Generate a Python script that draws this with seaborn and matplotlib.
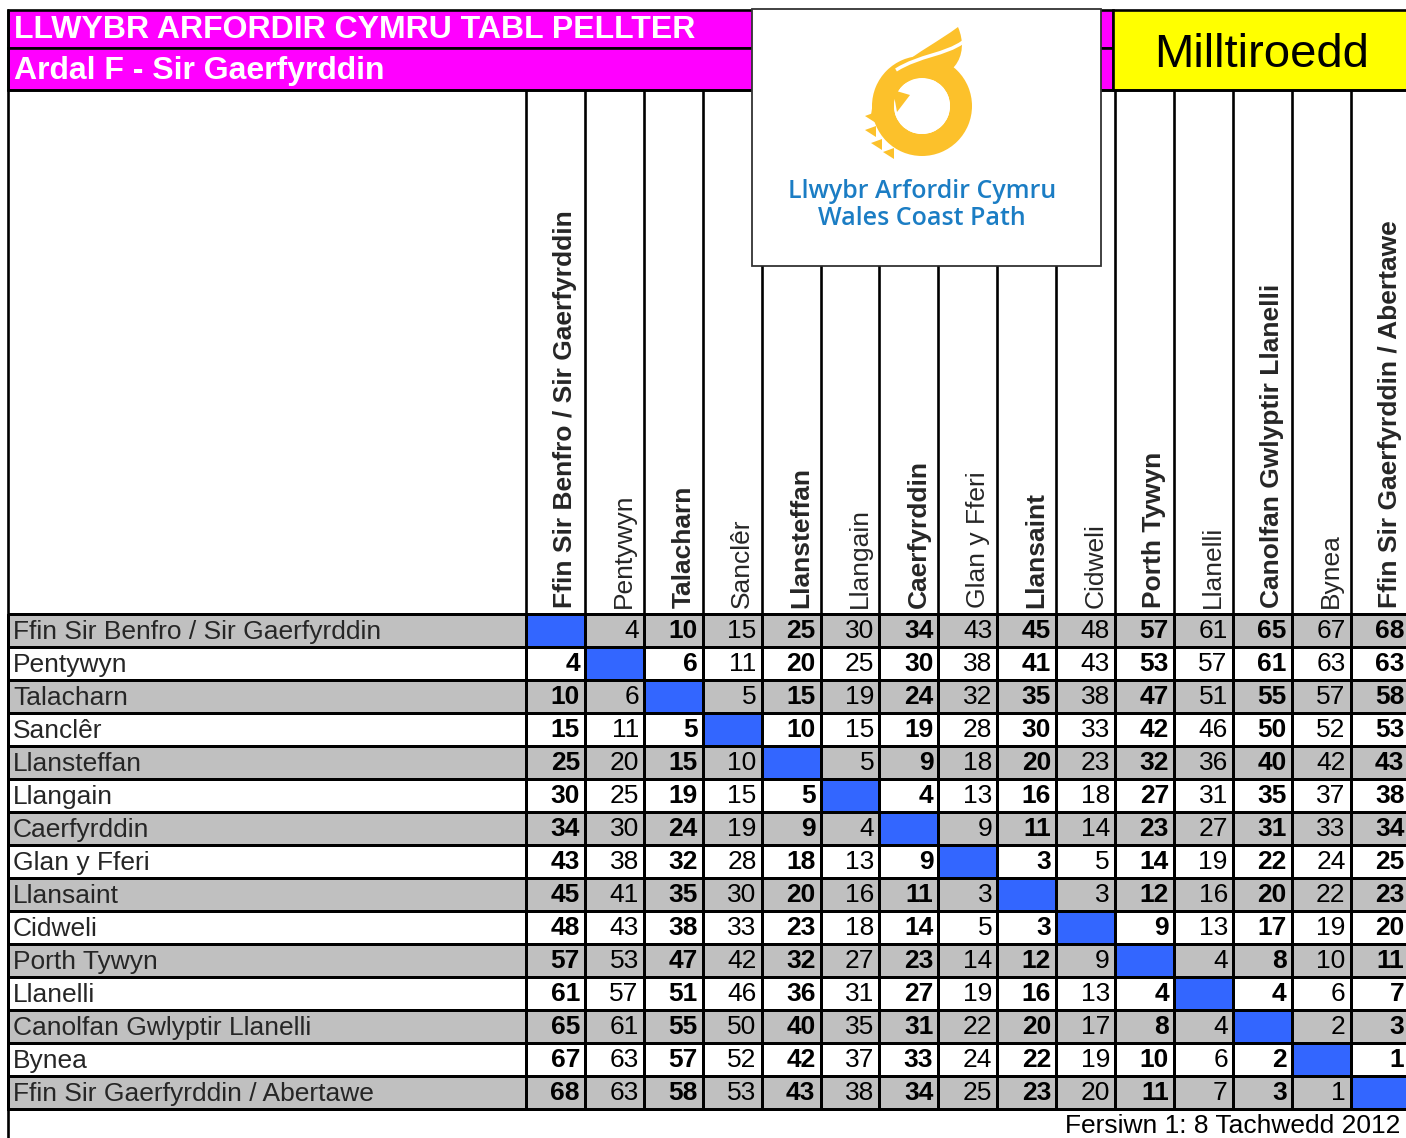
import numpy as np
import pandas as pd
import seaborn as sns
import matplotlib.pyplot as plt
from matplotlib.colors import ListedColormap
from matplotlib.patches import Rectangle, Wedge, PathPatch, Polygon
from matplotlib.path import Path

# ---------------- data ----------------
places = [
    "Ffin Sir Benfro / Sir Gaerfyrddin", "Pentywyn", "Talacharn", "Sanclêr",
    "Llansteffan", "Llangain", "Caerfyrddin", "Glan y Fferi", "Llansaint",
    "Cidweli", "Porth Tywyn", "Llanelli", "Canolfan Gwlyptir Llanelli",
    "Bynea", "Ffin Sir Gaerfyrddin / Abertawe",
]
row_ffin_benfro = [0, 4, 10, 15, 25, 30, 34, 43, 45, 48, 57, 61, 65, 67, 68]
row_pentywyn    = [4, 0, 6, 11, 20, 25, 30, 38, 41, 43, 53, 57, 61, 63, 63]
row_talacharn   = [10, 6, 0, 5, 15, 19, 24, 32, 35, 38, 47, 51, 55, 57, 58]
row_sancler     = [15, 11, 5, 0, 10, 15, 19, 28, 30, 33, 42, 46, 50, 52, 53]
row_llansteffan = [25, 20, 15, 10, 0, 5, 9, 18, 20, 23, 32, 36, 40, 42, 43]
row_llangain    = [30, 25, 19, 15, 5, 0, 4, 13, 16, 18, 27, 31, 35, 37, 38]
row_caerfyrddin = [34, 30, 24, 19, 9, 4, 0, 9, 11, 14, 23, 27, 31, 33, 34]
row_glanyfferi  = [43, 38, 32, 28, 18, 13, 9, 0, 3, 5, 14, 19, 22, 24, 25]
row_llansaint   = [45, 41, 35, 30, 20, 16, 11, 3, 0, 3, 12, 16, 20, 22, 23]
row_cidweli     = [48, 43, 38, 33, 23, 18, 14, 5, 3, 0, 9, 13, 17, 19, 20]
row_porthtywyn  = [57, 53, 47, 42, 32, 27, 23, 14, 12, 9, 0, 4, 8, 10, 11]
row_llanelli    = [61, 57, 51, 46, 36, 31, 27, 19, 16, 13, 4, 0, 4, 6, 7]
row_canolfan    = [65, 61, 55, 50, 40, 35, 31, 22, 20, 17, 8, 4, 0, 2, 3]
row_bynea       = [67, 63, 57, 52, 42, 37, 33, 24, 22, 19, 10, 6, 2, 0, 1]
row_ffin_abertawe = [68, 63, 58, 53, 43, 38, 34, 25, 23, 20, 11, 7, 3, 1, 0]
dist = [row_ffin_benfro, row_pentywyn, row_talacharn, row_sancler, row_llansteffan,
        row_llangain, row_caerfyrddin, row_glanyfferi, row_llansaint, row_cidweli,
        row_porthtywyn, row_llanelli, row_canolfan, row_bynea, row_ffin_abertawe]

title1 = "LLWYBR ARFORDIR CYMRU TABL PELLTER"
title2 = "Ardal F - Sir Gaerfyrddin"
unit_label = "Milltiroedd"
logo_line1 = "Llwybr Arfordir Cymru"
logo_line2 = "Wales Coast Path"
footer = "Fersiwn 1: 8 Tachwedd 2012"

# ---------------- style ----------------
sns.set_theme(style="white")
plt.rcParams["font.family"] = ["Liberation Sans", "DejaVu Sans"]

MAGENTA = "#ff00ff"
GREY = "#c0c0c0"
BLUE = "#3366ff"
YELLOW = "#ffff00"
LW = 1.9

W, H = 1406, 1138
fig = plt.figure(figsize=(W / 100, H / 100), dpi=100)


def fr(x0, y0, x1, y1):
    return [x0 / W, 1 - y1 / H, (x1 - x0) / W, (y1 - y0) / H]


TOP, BOT, LEFT, SPLIT, COLW = 614, 1109, 8, 526, 58.9
RIGHT = SPLIT + 15 * COLW
ROWH = (BOT - TOP) / 15.0

# background / header axes in pixel coordinates
bg = fig.add_axes([0, 0, 1, 1])
bg.set_xlim(0, W)
bg.set_ylim(H, 0)
bg.axis("off")

bg.add_patch(Rectangle((LEFT, 10), 1113 - LEFT, 38, fc=MAGENTA, ec="black", lw=LW, zorder=1))
bg.add_patch(Rectangle((LEFT, 48), 1113 - LEFT, 42, fc=MAGENTA, ec="black", lw=LW, zorder=1))
bg.add_patch(Rectangle((1113, 10), 320, 80, fc=YELLOW, ec="black", lw=LW, zorder=1))
bg.plot([LEFT, RIGHT], [90, 90], color="black", lw=LW, zorder=1.5)
bg.plot([LEFT, LEFT], [10, H], color="black", lw=LW, zorder=1.5)

bg.text(14, 30, title1, color="white", fontsize=23, fontweight="bold", va="center", ha="left", zorder=3)
bg.text(14, 71, title2, color="white", fontsize=23, fontweight="bold", va="center", ha="left", zorder=3)
bg.text(1262, 50, unit_label, color="black", fontsize=34, va="center_baseline", ha="center", zorder=3)

# logo box
bg.add_patch(Rectangle((752, 9), 349, 257, fc="white", ec="#333333", lw=1.3, zorder=4))
LOGO_Y = "#fcc12b"
bg.add_patch(Wedge((922, 106), 50, 0, 360, width=22, fc=LOGO_Y, ec="none", zorder=5))
flame = Path(
    [(871, 118), (872, 72), (920, 55), (958, 27),
     (970, 55), (955, 85), (905, 82), (871, 118)],
    [Path.MOVETO, Path.CURVE4, Path.CURVE4, Path.CURVE4,
     Path.CURVE4, Path.CURVE4, Path.CURVE4, Path.CLOSEPOLY],
)
bg.add_patch(PathPatch(flame, fc=LOGO_Y, ec="none", zorder=5))
stripe = Path([(896, 70), (920, 55), (945, 55), (963, 42)],
              [Path.MOVETO, Path.CURVE4, Path.CURVE4, Path.CURVE4])
bg.add_patch(PathPatch(stripe, fc="none", ec="white", lw=2.5, zorder=6))
bg.add_patch(Wedge((922, 106), 28, 0, 360, fc="white", ec="none", zorder=5.5))
bg.add_patch(Polygon([(893, 90), (910, 95), (897, 112)], closed=True, fc=LOGO_Y, ec="none", zorder=6))
for (sx, sy) in [(870, 118), (870, 132), (876, 145), (888, 154)]:
    bg.add_patch(Polygon([(sx - 5, sy - 2), (sx + 6, sy - 6), (sx + 6, sy + 5)], closed=True,
                         fc=LOGO_Y, ec="none", zorder=5))
LOGO_B = "#1b7dc4"
bg.text(922, 191, logo_line1, color=LOGO_B, fontsize=18, fontweight="semibold",
        family=["Open Sans", "DejaVu Sans"], ha="center", va="center", zorder=6)
bg.text(922, 218, logo_line2, color=LOGO_B, fontsize=18, fontweight="semibold",
        family=["Open Sans", "DejaVu Sans"], ha="center", va="center", zorder=6)

bg.text(1400, 1126, footer, fontsize=19, ha="right", va="center", color="black")

# ---------------- main distance grid ----------------
n = len(places)
codes = np.array([[2 if i == j else (1 if i % 2 == 0 else 0) for j in range(n)] for i in range(n)])
annot = np.array([["" if i == j else str(dist[i][j]) for j in range(n)] for i in range(n)])
df = pd.DataFrame(codes, index=places, columns=places)

ax = fig.add_axes(fr(SPLIT, TOP, RIGHT, BOT))
sns.heatmap(df, ax=ax, cmap=ListedColormap(["white", GREY, BLUE]), vmin=-0.5, vmax=2.5,
            cbar=False, annot=annot, fmt="", linewidths=LW, linecolor="black",
            xticklabels=False, yticklabels=False,
            annot_kws={"fontsize": 19, "color": "black"})
ax.collections[0].set_clip_on(False)
for t in ax.texts:
    x, y = t.get_position()
    j = int(x)
    t.set_position((j + 0.915, y + 0.03))
    t.set_ha("right")
    if j % 2 == 0:
        t.set_fontweight("bold")
for s in ax.spines.values():
    s.set_visible(False)
ax.set_xlabel("")
ax.set_ylabel("")

# column header lines and labels
for k in range(n + 1):
    xpx = SPLIT + k * COLW
    top_px = 266 if 752 < xpx < 1101 else 90
    ax.vlines(k, -(TOP - top_px) / ROWH, 0, colors="black", lw=LW, clip_on=False)
for j, p in enumerate(places):
    ax.text(j + 0.67, -6 / ROWH, p, rotation=90, ha="center", va="bottom", fontsize=19,
            fontweight="bold" if j % 2 == 0 else "normal", clip_on=False)

# ---------------- row label column ----------------
lab_codes = pd.DataFrame([[1 if i % 2 == 0 else 0] for i in range(n)], index=places, columns=["lab"])
axl = fig.add_axes(fr(LEFT, TOP, SPLIT, BOT))
sns.heatmap(lab_codes, ax=axl, cmap=ListedColormap(["white", GREY]), vmin=-0.5, vmax=1.5,
            cbar=False, linewidths=LW, linecolor="black", xticklabels=False, yticklabels=False)
axl.collections[0].set_clip_on(False)
for s in axl.spines.values():
    s.set_visible(False)
axl.set_xlabel("")
axl.set_ylabel("")
for i, p in enumerate(places):
    axl.text(5 / (SPLIT - LEFT), i + 0.56, p, ha="left", va="center", fontsize=19)

fig.savefig("out.png", dpi=100)
